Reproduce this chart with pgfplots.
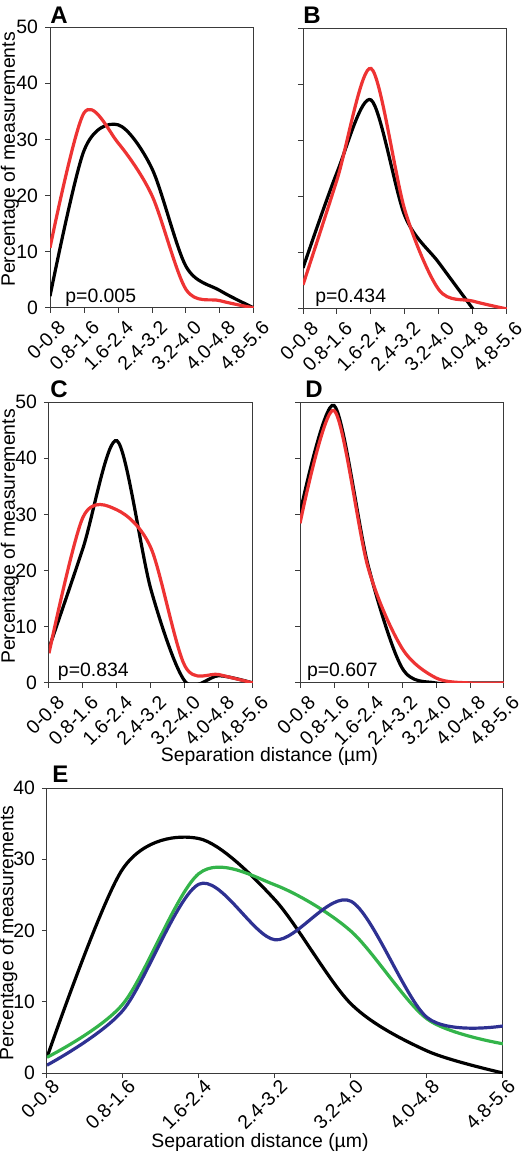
\documentclass[border=0pt]{standalone}
\usepackage{fontspec}
\setmainfont{Liberation Sans}
\usepackage{pgfplots}
\pgfplotsset{compat=1.18}
\definecolor{axgray}{HTML}{3A3A3A}
\definecolor{cred}{HTML}{EE3333}
\definecolor{cgreen}{HTML}{33B44A}
\definecolor{cblue}{HTML}{2E3192}
\newcommand\fs{\fontsize{9.7}{11}\selectfont}
\newcommand\lt{\fontsize{12}{12}\selectfont\bfseries}
\pgfplotsset{
  xtl/.style 2 args={x tick label style={font=\fs, inner sep=0pt, xshift=#1, yshift=#2, rotate=45, anchor=east}},
  panel/.style={
    scale only axis,
    xmin=0, xmax=6, ymin=0, ymax=50,
    xtick={0,...,6},
    xticklabels={0-0.8,0.8-1.6,1.6-2.4,2.4-3.2,3.2-4.0,4.0-4.8,4.8-5.6},
    ytick={0,10,...,50},
    axis line style={draw=axgray, line width=0.5pt},
    every tick/.style={draw=axgray, line width=0.5pt},
    tick align=outside, major tick length=2.5pt,
    tick pos=left,
    y tick label style={font=\fs},
    /pgf/number format/assume math mode=true,
    every axis plot/.append style={line width=1.6pt, smooth, tension=0.5, mark=none},
    clip mode=individual,
  },
  small/.style={panel, width=102pt, height=140.5pt, xtl={6pt}{-5.5pt}},
}
\begin{document}
\begin{tikzpicture}
\useasboundingbox (0,0) rectangle (261pt,576.5pt);
% A
\begin{axis}[small, at={(25pt,422.5pt)}, anchor=south west]
\addplot[black] coordinates {(0,2.1)(1,28)(2,32.6)(3,24.8)(4,7.4)(5,3.1)(6,0)};
\addplot[cred] coordinates {(0,10.7)(1,34.7)(2,29.4)(3,20)(4,3.3)(5,1.3)(6,0)};
\node[anchor=base west, inner sep=0, font=\fs, xshift=7.5pt, yshift=2.5pt] at (rel axis cs:0,0) {p=0.005};
\end{axis}
% B
\begin{axis}[small, yticklabels={}, at={(151.5pt,422pt)}, anchor=south west]
\addplot[black] coordinates {(0,7.3)(1,24.3)(2,37.2)(3,16.5)(4,8.2)(5,0)};
\addplot[cred] coordinates {(0,4.3)(1,23)(2,42.8)(3,17.5)(4,3.4)(5,1.4)(6,0)};
\node[anchor=base west, inner sep=0, font=\fs, xshift=6pt, yshift=3pt] at (rel axis cs:0,0) {p=0.434};
\end{axis}
% C
\begin{axis}[small, at={(24.5pt,235pt)}, anchor=south west]
\addplot[black] coordinates {(0,6.2)(1,24)(2,43.1)(3,16.6)(4,0.3)(5,1.3)(6,0)};
\addplot[cred] coordinates {(0,5.3)(1,29.5)(2,30.8)(3,24)(4,3)(5,1.5)(6,0)};
\node[anchor=base west, inner sep=0, font=\fs, xshift=4.3pt, yshift=3pt] at (rel axis cs:0,0) {p=0.834};
\end{axis}
% D
\begin{axis}[small, yticklabels={}, at={(150pt,235pt)}, anchor=south west]
\addplot[black] coordinates {(0,30.2)(1,49.4)(2,21)(3,2.7)(4,0)(5,0)(6,0)};
\addplot[cred] coordinates {(0,28.4)(1,48.5)(2,20.6)(3,6.2)(4,0.9)(5,0)(6,0)};
\node[anchor=base west, inner sep=0, font=\fs, xshift=3.3pt, yshift=3.3pt] at (rel axis cs:0,0) {p=0.607};
\end{axis}
% E
\begin{axis}[panel, width=228pt, height=142.5pt, ymax=40, ytick={0,10,...,40},
  xtl={4.5pt}{-2.5pt},
  at={(23.5pt,40pt)}, anchor=south west]
\addplot[black] coordinates {(0,2.2)(1,28.7)(2,32.9)(3,24.3)(4,9.7)(5,3.1)(6,0)};
\addplot[cgreen] coordinates {(0,2.2)(1,9.7)(2,28)(3,26.4)(4,19.9)(5,7.6)(6,4.1)};
\addplot[cblue] coordinates {(0,1.1)(1,8.8)(2,26.5)(3,18.7)(4,24.1)(5,7.8)(6,6.6)};
\end{axis}
% y labels
\node[rotate=90, anchor=center, inner sep=0, font=\fs] at (4.9pt,496.75pt) {Percentage of measurements};
\node[rotate=90, anchor=center, inner sep=0, font=\fs] at (4.9pt,308.25pt) {Percentage of measurements};
\node[rotate=90, anchor=center, inner sep=0, font=\fs] at (4.2pt,110pt) {Percentage of measurements};
% panel letters
\node[anchor=base west, inner sep=0, font=\lt] at (25pt,564.5pt) {A};
\node[anchor=base west, inner sep=0, font=\lt] at (151.5pt,564.5pt) {B};
\node[anchor=base west, inner sep=0, font=\lt] at (25pt,377.5pt) {C};
\node[anchor=base west, inner sep=0, font=\lt] at (152.5pt,377.5pt) {D};
\node[anchor=base west, inner sep=0, font=\lt] at (26pt,185pt) {E};
% x labels
\node[anchor=base, inner sep=0, font=\fs] at (134.75pt,195.5pt) {Separation distance (µm)};
\node[anchor=base, inner sep=0, font=\fs] at (130pt,2.5pt) {Separation distance (µm)};
\end{tikzpicture}
\end{document}
